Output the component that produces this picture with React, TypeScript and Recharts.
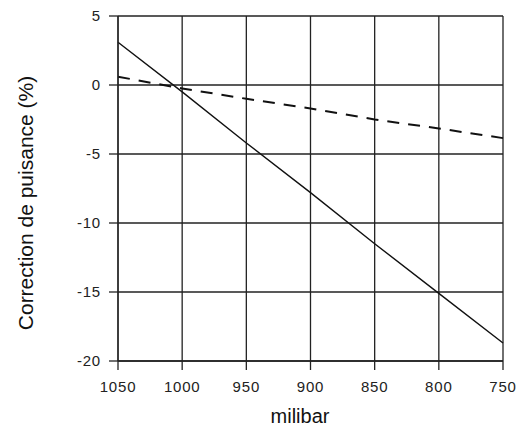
import React from "react";
import {
  LineChart,
  Line,
  CartesianGrid,
  XAxis,
  YAxis,
} from "recharts";

const pressure = [1050, 1000, 950, 900, 850, 800, 750];
const solidValues = [3.1, -0.5, -4.2, -7.8, -11.5, -15.1, -18.7];
const dashedValues = [0.6, -0.25, -1.0, -1.7, -2.5, -3.15, -3.85];
const yTicks = [5, 0, -5, -10, -15, -20];

const data = pressure.map((p, i) => ({
  p,
  solid: solidValues[i],
  dashed: dashedValues[i],
}));

const font = "'Liberation Sans', Arial, sans-serif";
const tickStyle = { fontFamily: font, fontSize: 15, fill: "#222", letterSpacing: 0.8 };

export default function App() {
  return (
    <div style={{ position: "absolute", left: 0, top: 0, background: "#fff" }}>
      <LineChart
        width={529}
        height={430}
        data={data}
        margin={{ top: 16, right: 26, bottom: 0, left: 58 }}
      >
        <CartesianGrid stroke="#222" strokeWidth={1.3} />
        <XAxis
          dataKey="p"
          type="number"
          domain={[750, 1050]}
          reversed
          ticks={pressure}
          interval={0}
          height={69}
          tickSize={9}
          tickMargin={11}
          axisLine={{ stroke: "#222", strokeWidth: 1.3 }}
          tickLine={{ stroke: "#222", strokeWidth: 1.3 }}
          tick={tickStyle}
          label={{
            content: () => (
              <text
                x={300}
                y={423}
                textAnchor="middle"
                fontFamily={font}
                fontSize={20}
                fill="#111"
              >
                milibar
              </text>
            ),
          }}
        />
        <YAxis
          type="number"
          domain={[-20, 5]}
          ticks={yTicks}
          interval={0}
          width={60}
          tickSize={9}
          tickMargin={8}
          axisLine={{ stroke: "#222", strokeWidth: 1.3 }}
          tickLine={{ stroke: "#222", strokeWidth: 1.3 }}
          tick={tickStyle}
          label={{
            content: () => (
              <text
                x={33}
                y={203}
                transform="rotate(-90 33 203)"
                textAnchor="middle"
                fontFamily={font}
                fontSize={21}
                fill="#111"
              >
                Correction de puisance (%)
              </text>
            ),
          }}
        />
        <Line
          type="linear"
          dataKey="solid"
          stroke="#111"
          strokeWidth={1.4}
          dot={false}
          isAnimationActive={false}
        />
        <Line
          type="linear"
          dataKey="dashed"
          stroke="#111"
          strokeWidth={2}
          strokeDasharray="12 9"
          dot={false}
          isAnimationActive={false}
        />
      </LineChart>
    </div>
  );
}
